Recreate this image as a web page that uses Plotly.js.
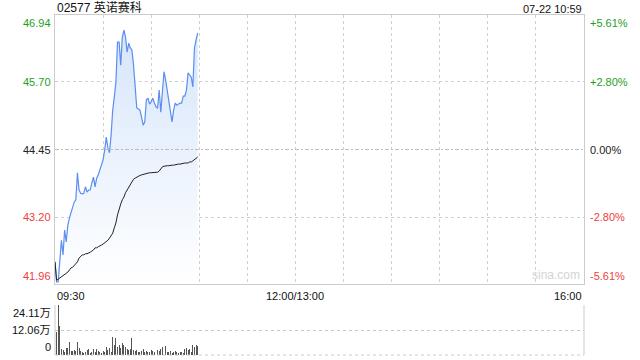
<!DOCTYPE html>
<html>
<head>
<meta charset="utf-8">
<script src="https://cdn.plot.ly/plotly-3.0.1.min.js"></script>
<style>html,body{margin:0;padding:0;background:#fff;}#chart{width:640px;height:360px;}</style>
</head>
<body>
<div id="chart"></div>
<script>
// ---- data ----
const stockTitle = "02577 英诺赛科";
const stamp = "07-22 10:59";
const prevClose = 44.45;
const priceTicks = [46.94, 45.70, 44.45, 43.20, 41.96];
const pctTicks = ["+5.61%", "+2.80%", "0.00%", "-2.80%", "-5.61%"];
const timeLabels = ["09:30", "12:00/13:00", "16:00"];
const timeLabelPos = [0, 150, 330];   // minutes of trading since 09:30
const volTicks = [0, 12.06, 24.11];
const volTickText = ["0", "12.06万", "24.11万"];

const price = [
  42.37, 42.00, 42.00, 42.37, 42.77, 42.50, 42.96, 42.74, 43.05, 43.18,
  43.29, 43.39, 43.48, 43.52, 44.02, 43.70, 43.64, 43.63, 43.64, 43.76,
  43.66, 43.70, 43.70, 43.83, 43.94, 43.76, 43.92, 43.98, 44.07, 44.13,
  44.26, 44.44, 44.68, 44.48, 44.39, 44.72, 45.18, 45.42, 45.70, 46.44,
  46.44, 46.01, 46.53, 46.66, 46.53, 46.25, 46.42, 46.33, 46.29, 46.01,
  45.55, 45.22, 45.20, 45.18, 45.05, 44.90, 44.96, 45.37, 45.40, 45.29,
  45.33, 45.40, 45.31, 45.24, 45.22, 45.55, 45.14, 45.51, 45.89, 45.74,
  45.55, 45.37, 45.24, 44.96, 45.18, 45.31, 45.27, 45.29, 45.31, 45.31,
  45.44, 45.44, 45.55, 45.87, 45.83, 45.79, 45.61, 46.33, 46.48, 46.61
];
const avgPrice = [
  42.37, 42.03, 42.05, 42.07, 42.09, 42.11, 42.13, 42.16, 42.18, 42.22,
  42.26, 42.27, 42.31, 42.33, 42.37, 42.44, 42.48, 42.50, 42.50, 42.52,
  42.52, 42.53, 42.55, 42.57, 42.59, 42.63, 42.63, 42.65, 42.66, 42.68,
  42.70, 42.72, 42.74, 42.77, 42.81, 42.85, 42.90, 43.00, 43.09, 43.24,
  43.37, 43.44, 43.52, 43.57, 43.65, 43.70, 43.76, 43.81, 43.87, 43.90,
  43.92, 43.94, 43.96, 43.97, 43.98, 43.99, 44.00, 44.00, 44.01, 44.02,
  44.02, 44.02, 44.03, 44.03, 44.03, 44.05, 44.09, 44.13, 44.14, 44.15,
  44.15, 44.15, 44.16, 44.16, 44.16, 44.17, 44.17, 44.18, 44.18, 44.19,
  44.20, 44.20, 44.20, 44.20, 44.22, 44.22, 44.24, 44.26, 44.28, 44.31
];
// volume, in 万 shares
const volume = [
  17.9, 11.2, 24.1, 14.0, 2.9, 2.4, 1.6, 3.2, 3.5, 6.4,
  1.9, 1.9, 2.4, 1.9, 6.1, 3.2, 1.9, 1.3, 0.8, 1.6,
  2.4, 2.9, 0.8, 1.3, 2.9, 1.3, 2.9, 1.9, 1.3, 0.8,
  1.9, 1.3, 4.0, 2.4, 3.2, 1.3, 8.8, 4.8, 8.4, 4.0,
  5.0, 3.2, 5.6, 5.0, 4.0, 2.9, 2.4, 2.9, 8.0, 2.4,
  1.9, 2.4, 1.6, 1.3, 1.9, 2.9, 1.6, 1.9, 1.3, 1.6,
  2.4, 1.9, 1.3, 1.6, 2.4, 1.9, 2.9, 4.0, 5.1, 4.5,
  1.6, 1.3, 1.9, 0.8, 1.6, 1.9, 1.3, 0.8, 1.6, 1.3,
  0.8, 2.9, 3.2, 2.4, 2.9, 1.6, 4.8, 4.0, 4.8, 4.3
];
// minute index for each sample (09:30 = 0)
const minutes = price.map((_, i) => i);

// ---- styling ----
const FONT = '"Liberation Sans", Arial, "Noto Sans CJK SC", sans-serif';
const GREEN = '#1e9e1e';
const RED = '#f03c3c';
const priceColors = [GREEN, GREEN, '#222', RED, RED];
const pMin = priceTicks[4], pMax = priceTicks[0];

const traces = [
  {
    x: minutes, y: price, type: 'scatter', mode: 'lines',
    line: {color: '#5b8ef0', width: 1.2},
    fill: 'tozeroy',
    fillgradient: {type: 'vertical', start: pMin, stop: pMax,
      colorscale: [[0, 'rgba(255,255,255,1)'], [1, 'rgba(212,228,250,1)']]},
    xaxis: 'x', yaxis: 'y', hoverinfo: 'skip'
  },
  {
    x: minutes, y: avgPrice, type: 'scatter', mode: 'lines',
    line: {color: '#222', width: 1},
    xaxis: 'x', yaxis: 'y', hoverinfo: 'skip'
  },
  {
    x: minutes, y: volume, type: 'bar',
    marker: {color: '#555', line: {width: 0}},
    width: 0.6,
    xaxis: 'x2', yaxis: 'y2', hoverinfo: 'skip'
  }
];

const priceDomain = [0.2088, 1];
const volDomain = [0, 0.147];

const annotations = [];
annotations.push({xref: 'paper', yref: 'paper', x: 0, y: 1, xanchor: 'left', yanchor: 'bottom',
  text: stockTitle, showarrow: false, font: {family: FONT, size: 12, color: '#111'}, yshift: -2});
annotations.push({xref: 'paper', yref: 'paper', x: 1, y: 1, xanchor: 'right', yanchor: 'bottom',
  text: stamp, showarrow: false, font: {family: FONT, size: 11, color: '#111'}, yshift: -2});
priceTicks.forEach((v, i) => {
  const ya = i === 0 ? 'top' : (i === priceTicks.length - 1 ? 'bottom' : 'middle');
  annotations.push({xref: 'paper', yref: 'y', x: 0, y: v, xanchor: 'right', yanchor: ya,
    xshift: -2, text: v.toFixed(2), showarrow: false, font: {family: FONT, size: 11, color: priceColors[i]}});
  annotations.push({xref: 'paper', yref: 'y', x: 1, y: v, xanchor: 'left', yanchor: ya,
    xshift: 4, text: pctTicks[i], showarrow: false, font: {family: FONT, size: 11, color: priceColors[i]}});
});
const xAnch = ['left', 'center', 'right'];
timeLabels.forEach((t, i) => {
  annotations.push({xref: 'x', yref: 'paper', x: timeLabelPos[i], y: 0.1735, xanchor: xAnch[i], yanchor: 'middle',
    text: t, showarrow: false, font: {family: FONT, size: 11, color: '#111'}});
});
volTicks.forEach((v, i) => {
  const ya = i === 0 ? 'bottom' : (i === volTicks.length - 1 ? 'top' : 'middle');
  annotations.push({xref: 'paper', yref: 'y2', x: 0, y: v, xanchor: 'right', yanchor: ya,
    xshift: -2, text: volTickText[i], showarrow: false, font: {family: FONT, size: 11, color: '#111'}});
});
annotations.push({xref: 'paper', yref: 'y', x: 1, y: pMin, xanchor: 'right', yanchor: 'bottom',
  xshift: -2, yshift: 0, text: 'sina.com', showarrow: false, font: {family: FONT, size: 12, color: '#d4d4d4'}});

const gridTicks = [];
for (let m = 0; m <= 330; m += 30) gridTicks.push(m);

const shapes = [
  // zero-change line
  {type: 'line', xref: 'paper', yref: 'y', x0: 0, x1: 1, y0: prevClose, y1: prevClose,
   line: {color: '#bdbdbd', width: 1, dash: '4px,2px,2px,2px'}},
  // volume panel borders
  {type: 'line', xref: 'paper', yref: 'paper', x0: 0, x1: 0, y0: volDomain[0], y1: volDomain[1],
   line: {color: '#ccc', width: 1}},
  {type: 'line', xref: 'paper', yref: 'paper', x0: 1, x1: 1, y0: volDomain[0], y1: volDomain[1],
   line: {color: '#ccc', width: 1}},
  {type: 'line', xref: 'paper', yref: 'paper', x0: 0, x1: 1, y0: volDomain[0], y1: volDomain[0],
   line: {color: '#ccc', width: 1, dash: 'dot'}}
];

const layout = {
  width: 640, height: 360,
  margin: {l: 55, r: 56, t: 15, b: 5},
  paper_bgcolor: '#fff', plot_bgcolor: '#fff',
  showlegend: false,
  font: {family: FONT, size: 11},
  xaxis: {range: [0, 330], domain: [0, 1], anchor: 'y', tickvals: gridTicks, showticklabels: false,
    ticks: '', showgrid: true, gridcolor: '#d0d0d0', griddash: 'dot', gridwidth: 1,
    showline: true, mirror: true, linecolor: '#ccc', linewidth: 1, zeroline: false, fixedrange: true},
  yaxis: {range: [pMin, pMax], domain: priceDomain, anchor: 'x', tickvals: [priceTicks[1], priceTicks[3]],
    showticklabels: false, ticks: '', showgrid: true, gridcolor: '#d0d0d0', griddash: 'dot', gridwidth: 1,
    showline: true, mirror: true, linecolor: '#ccc', linewidth: 1, zeroline: false, fixedrange: true},
  xaxis2: {range: [0, 330], domain: [0, 1], anchor: 'y2', showticklabels: false, ticks: '',
    showgrid: false, showline: false, zeroline: false, fixedrange: true},
  yaxis2: {range: [0, 24.11], domain: volDomain, anchor: 'x2', tickvals: [12.06, 24.11],
    showticklabels: false, ticks: '', showgrid: true, gridcolor: '#c8c8c8', griddash: 'dot', gridwidth: 1,
    showline: false, zeroline: false, fixedrange: true},
  bargap: 0,
  annotations: annotations,
  shapes: shapes
};

Plotly.newPlot('chart', traces, layout, {displayModeBar: false, staticPlot: true});
</script>
</body>
</html>
